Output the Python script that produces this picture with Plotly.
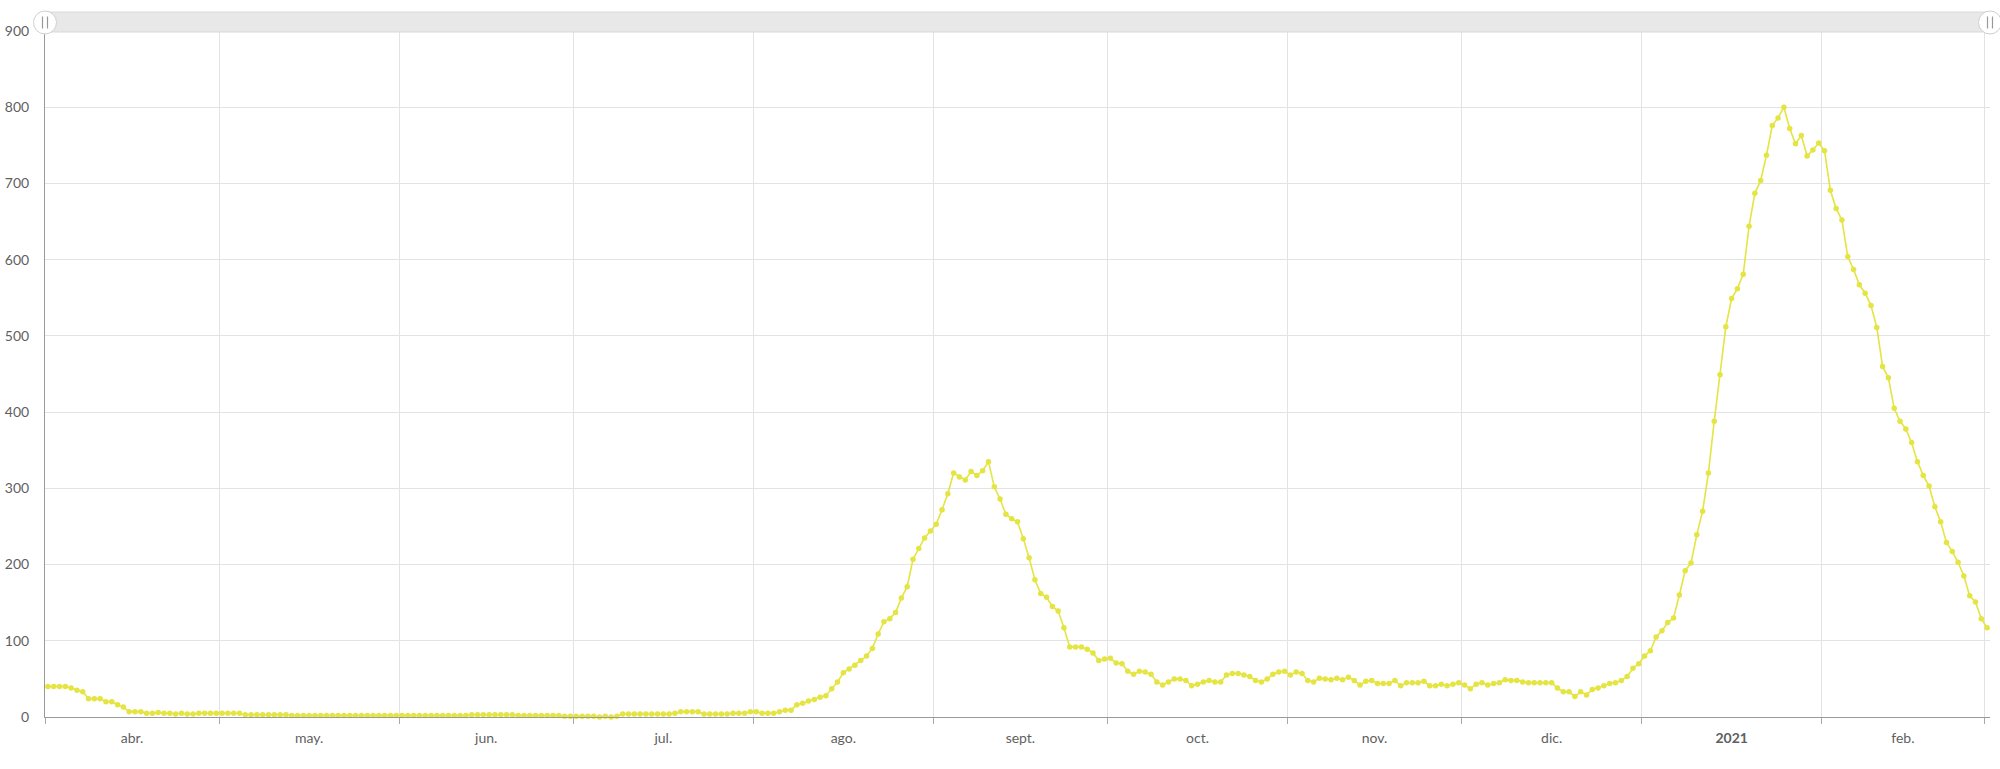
import pandas as pd
import plotly.graph_objects as go

# ---- data (daily values, one list per month) ----
apr = [40, 40, 40, 40, 38, 35, 33, 24, 24, 24, 20, 20, 16, 13, 7, 7, 7, 5, 5, 6,
       5, 5, 4, 5, 4, 4, 5, 5, 5, 5]
may = [5, 5, 5, 5, 3, 3, 3, 3, 3, 3, 3, 3, 2, 2, 2, 2, 2, 2, 2, 2,
       2, 2, 2, 2, 2, 2, 2, 2, 2, 2, 2]
jun = [2, 2, 2, 2, 2, 2, 2, 2, 2, 2, 2, 2, 3, 3, 3, 3, 3, 3, 3, 3,
       2, 2, 2, 2, 2, 2, 2, 2, 1, 1]
jul = [1, 1, 1, 1, 0, 1, 0, 1, 4, 4, 4, 4, 4, 4, 4, 4, 4, 5, 7, 7,
       7, 7, 4, 4, 4, 4, 4, 5, 5, 5, 7]
aug = [7, 5, 5, 5, 7, 9, 9, 16, 18, 21, 23, 26, 28, 37, 46, 58, 63, 68, 74, 80,
       90, 109, 125, 129, 137, 156, 171, 207, 221, 235, 244]
sep = [253, 272, 293, 320, 315, 311, 322, 317, 323, 335, 302, 286, 266, 260, 256,
       234, 209, 180, 162, 157, 145, 139, 117, 92, 92, 92, 89, 84, 74, 76]
oct_ = [77, 71, 70, 60, 56, 60, 59, 56, 46, 42, 46, 50, 50, 48, 41, 43, 46, 48, 46, 46,
        55, 57, 57, 55, 53, 48, 46, 50, 56, 59, 60]
nov = [55, 59, 57, 48, 46, 51, 50, 49, 51, 49, 52, 48, 42, 47, 48, 44, 44, 44, 48, 41,
       45, 45, 45, 47, 41, 41, 43, 41, 43, 45]
dec = [42, 37, 43, 45, 42, 44, 45, 49, 48, 48, 46, 45, 45, 45, 45, 45, 38, 33, 33, 27,
       33, 29, 36, 38, 41, 44, 45, 48, 53, 64, 70]
jan = [80, 87, 105, 113, 124, 130, 160, 192, 202, 239, 270, 320, 388, 449, 512, 549,
       562, 581, 644, 687, 704, 737, 776, 786, 800, 772, 752, 763, 736, 744, 753]
feb = [743, 691, 667, 652, 604, 587, 567, 556, 540, 511, 460, 445, 405, 388, 378, 360,
       335, 317, 303, 276, 256, 229, 217, 203, 185, 159, 151, 129]
mar = [117]

start_date = "2020-04-01"
month_labels = ["abr.", "may.", "jun.", "jul.", "ago.", "sept.", "oct.", "nov.",
                "dic.", "<b>2021</b>", "feb."]
y_ticks = [0, 100, 200, 300, 400, 500, 600, 700, 800, 900]

values = apr + may + jun + jul + aug + sep + oct_ + nov + dec + jan + feb + mar
dates = pd.date_range(start_date, periods=len(values), freq="D") + pd.Timedelta(hours=12)

x_start = pd.Timestamp(start_date)
x_end = pd.Timestamp("2021-03-02")
month_starts = list(pd.date_range(start_date, "2021-03-01", freq="MS"))
label_pos = [month_starts[i] + (month_starts[i + 1] - month_starts[i]) / 2
             for i in range(len(month_labels))]

COLOR = "rgb(228,228,66)"
FONT = "Lato, 'Open Sans', sans-serif"
TXT = "#5f5f5f"

W, H = 2000, 769
ML, MR, MT, MB = 45, 10, 31, 52

fig = go.Figure()
fig.add_trace(go.Scatter(
    x=dates, y=values, mode="lines+markers",
    line=dict(color=COLOR, width=1.6),
    marker=dict(color=COLOR, size=5.5),
    showlegend=False, hoverinfo="x+y", cliponaxis=False,
))
# helper trace so the overlay axis (grid + ticks) is drawn
fig.add_trace(go.Scatter(x=[dates[0]], y=[None], xaxis="x2", mode="markers",
                         showlegend=False, hoverinfo="skip"))

fig.update_layout(
    width=W, height=H,
    margin=dict(l=ML, r=MR, t=MT, b=MB, autoexpand=False),
    paper_bgcolor="white", plot_bgcolor="white",
    font=dict(family=FONT, size=14, color=TXT),
    xaxis=dict(
        type="date", range=[x_start, x_end], automargin=False,
        tickmode="array", tickvals=label_pos, ticktext=month_labels,
        showgrid=False, zeroline=False,
        ticks="outside", ticklen=8, tickcolor="rgba(0,0,0,0)",
        showline=True, linecolor="#9a9a9a", linewidth=1,
        tickfont=dict(size=14, color=TXT),
    ),
    xaxis2=dict(
        type="date", range=[x_start, x_end], overlaying="x", anchor="y", side="bottom",
        automargin=False,
        tickmode="array", tickvals=month_starts, ticktext=[""] * len(month_starts),
        showgrid=True, gridcolor="#e3e3e3", gridwidth=1, zeroline=False,
        ticks="outside", ticklen=6, tickcolor="#aaa", showline=False,
    ),
    yaxis=dict(
        range=[0, 900], tickmode="array", tickvals=y_ticks, automargin=False,
        showgrid=True, gridcolor="#e3e3e3", gridwidth=1, zeroline=False,
        showline=True, linecolor="#9a9a9a", linewidth=1,
        ticks="outside", ticklen=12, tickcolor="rgba(0,0,0,0)",
        tickfont=dict(size=14, color=TXT),
    ),
)

# scrollbar decoration at the top
plot_h = H - MT - MB
def py(y_px):
    return (H - MB - y_px) / plot_h

shapes = [
    dict(type="rect", xref="paper", yref="paper", x0=0, x1=1, y0=py(32), y1=py(12),
         fillcolor="#e8e8e8", line=dict(color="#d9d9d9", width=1), layer="above"),
]
for xa in (0, 1):
    shapes.append(dict(type="circle", xref="paper", yref="paper",
                       xsizemode="pixel", ysizemode="pixel", xanchor=xa, yanchor=py(22.5),
                       x0=-11.5, x1=11.5, y0=-11.5, y1=11.5,
                       fillcolor="white", line=dict(color="#cfcfcf", width=1), layer="above"))
    for dx in (-2.5, 2.5):
        shapes.append(dict(type="line", xref="paper", yref="paper",
                           xsizemode="pixel", ysizemode="pixel", xanchor=xa, yanchor=py(22.5),
                           x0=dx, x1=dx, y0=-6, y1=6,
                           line=dict(color="#999", width=1.2), layer="above"))
fig.update_layout(shapes=shapes)

fig.write_html(
    "out.html",
    config={"displayModeBar": False},
    post_script="document.body.style.margin='0px';document.body.style.padding='0px';"
                "document.body.style.overflow='hidden';",
)
